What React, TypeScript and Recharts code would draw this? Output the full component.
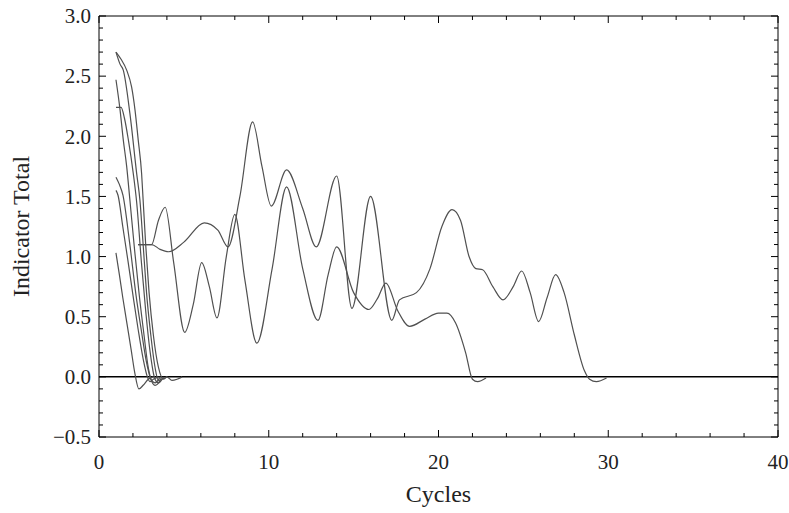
import React from "react";
import { LineChart, Line, XAxis, YAxis, ReferenceLine, Label } from "recharts";

// long curve that runs out to ~30 cycles
const cyclesA = [2.3, 3.1, 3.6, 4.1, 5.0, 6.2, 7.0, 7.6, 8.3, 9.05, 9.6, 10.15, 11.05, 12.0, 12.8, 14.0, 14.9, 16.0, 17.25, 17.7, 18.7, 19.5, 20.2, 20.8, 21.3, 21.8, 22.2, 22.6, 23.2, 23.8, 24.4, 24.9, 25.4, 25.9, 26.4, 26.9, 27.4, 28.0, 28.6, 28.9, 29.3, 29.9];
const totalA = [1.1, 1.1, 1.06, 1.04, 1.12, 1.28, 1.22, 1.08, 1.5, 2.12, 1.75, 1.42, 1.72, 1.4, 1.08, 1.67, 0.57, 1.5, 0.47, 0.64, 0.7, 0.9, 1.25, 1.39, 1.3, 1.0, 0.9, 0.89, 0.75, 0.64, 0.75, 0.88, 0.7, 0.46, 0.66, 0.85, 0.7, 0.35, 0.05, -0.02, -0.04, -0.01];

// curve ending around 22 cycles
const cyclesB = [2.3, 3.1, 3.5, 3.9, 4.4, 5.05, 5.55, 6.05, 6.5, 6.95, 7.5, 8.0, 8.6, 9.3, 10.2, 11.05, 12.0, 12.9, 13.5, 14.0, 15.0, 15.9, 16.4, 16.9, 17.6, 18.3, 19.2, 20.0, 20.5, 21.0, 21.6, 22.0, 22.3, 22.8];
const totalB = [1.1, 1.1, 1.3, 1.41, 0.95, 0.37, 0.6, 0.95, 0.75, 0.49, 1.0, 1.35, 0.8, 0.28, 0.9, 1.58, 0.9, 0.47, 0.85, 1.08, 0.7, 0.56, 0.65, 0.78, 0.55, 0.42, 0.48, 0.53, 0.53, 0.45, 0.2, -0.02, -0.04, -0.01];

// short runs that drop to zero within a few cycles
const cycles1 = [1, 1.2, 1.4, 1.65, 1.9, 2.1, 2.35, 2.6, 2.9, 3.2];
const total1 = [1.03, 0.85, 0.66, 0.44, 0.22, 0.04, -0.1, -0.07, -0.02, 0];
const cycles2 = [1, 1.12, 1.4, 1.7, 2.0, 2.3, 2.6, 2.85, 3.0, 3.2, 3.5];
const total2 = [1.55, 1.51, 1.25, 0.97, 0.68, 0.4, 0.15, 0.0, -0.04, -0.02, 0];
const cycles3 = [1, 1.2, 1.41, 1.8, 2.18, 2.5, 2.8, 3.05, 3.3, 3.45, 3.7];
const total3 = [1.66, 1.6, 1.51, 1.12, 0.68, 0.38, 0.12, -0.02, -0.07, -0.06, 0];
const cycles4 = [1, 1.24, 1.43, 1.63, 1.82, 2.1, 2.37, 2.65, 2.9, 3.1, 3.3, 3.6];
const total4 = [2.47, 2.22, 1.97, 1.75, 1.47, 1.05, 0.68, 0.35, 0.08, -0.03, -0.05, 0];
const cycles5 = [1, 1.3, 1.5, 1.73, 2.02, 2.22, 2.5, 2.75, 3.0, 3.3, 3.5, 3.8];
const total5 = [2.24, 2.24, 2.15, 1.97, 1.69, 1.45, 0.95, 0.55, 0.22, -0.02, -0.05, 0];
const cycles6 = [1, 1.24, 1.43, 1.82, 2.22, 2.41, 2.6, 2.8, 3.05, 3.3, 3.5, 3.7, 4.0];
const total6 = [2.7, 2.6, 2.55, 2.19, 1.69, 1.47, 1.1, 0.7, 0.35, 0.08, -0.03, -0.02, 0];
const cycles7 = [1, 1.3, 1.63, 1.92, 2.12, 2.31, 2.51, 2.6, 2.75, 2.95, 3.2, 3.5, 3.8, 4.0, 4.3, 4.6, 4.9];
const total7 = [2.7, 2.64, 2.55, 2.41, 2.22, 1.97, 1.69, 1.47, 1.1, 0.7, 0.35, 0.08, -0.02, 0, -0.03, -0.02, 0];

const xTicks = [0, 2, 4, 6, 8, 10, 12, 14, 16, 18, 20, 22, 24, 26, 28, 30, 32, 34, 36, 38, 40];
const yTicks = Array.from({ length: 36 }, (_, i) => (i - 5) / 10);

const FONT = "'Liberation Serif', 'Times New Roman', serif";
const INK = "#000";
const LINE = "#505050";

const runs = [
  [cyclesA, totalA],
  [cyclesB, totalB],
  [cycles1, total1],
  [cycles2, total2],
  [cycles3, total3],
  [cycles4, total4],
  [cycles5, total5],
  [cycles6, total6],
  [cycles7, total7],
].map(([xs, ys]) => xs.map((c, i) => ({ cycles: c, total: ys[i] })));

const isMajorX = (v: number) => v % 10 === 0;
const isMajorY = (v: number) => Math.round(v * 10) % 5 === 0;
const fmtY = (v: number) => (v < 0 ? "\u2212" : "") + Math.abs(v).toFixed(1);

// ticks point inward like a Mathematica frame
const BottomTick = ({ x, y, payload }: any) => {
  const major = isMajorX(payload.value);
  return (
    <g>
      <line x1={x} x2={x} y1={y} y2={y - (major ? 7 : 4)} stroke={INK} />
      {major && (
        <text x={x} y={y + 32} textAnchor="middle" fontSize={21} fontFamily={FONT} fill="#222">
          {payload.value}
        </text>
      )}
    </g>
  );
};

const TopTick = ({ x, y, payload }: any) => (
  <line x1={x} x2={x} y1={y} y2={y + (isMajorX(payload.value) ? 7 : 4)} stroke={INK} />
);

const LeftTick = ({ x, y, payload }: any) => {
  const major = isMajorY(payload.value);
  return (
    <g>
      <line x1={x} x2={x + (major ? 7 : 4)} y1={y} y2={y} stroke={INK} />
      {major && (
        <text x={x - 8} y={y} dy="0.35em" textAnchor="end" fontSize={21} fontFamily={FONT} fill="#222">
          {fmtY(payload.value)}
        </text>
      )}
    </g>
  );
};

const RightTick = ({ x, y, payload }: any) => (
  <line x1={x} x2={x - (isMajorY(payload.value) ? 7 : 4)} y1={y} y2={y} stroke={INK} />
);

export default function App() {
  return (
    <div style={{ position: "absolute", left: 0, top: 0, width: 789, height: 513, background: "#fff" }}>
      <LineChart width={789} height={513} margin={{ top: 15, right: 10, bottom: 0, left: 0 }}>
        <XAxis
          xAxisId="b"
          type="number"
          dataKey="cycles"
          domain={[0, 40]}
          allowDataOverflow
          ticks={xTicks}
          interval={0}
          height={76}
          tickSize={0}
          tickMargin={0}
          tickLine={false}
          tick={BottomTick}
          axisLine={{ stroke: INK }}
        >
          <Label value="Cycles" position="insideBottom" offset={11} fontSize={24} fontFamily={FONT} fill="#222" />
        </XAxis>
        <XAxis
          xAxisId="t"
          orientation="top"
          type="number"
          dataKey="cycles"
          domain={[0, 40]}
          allowDataOverflow
          ticks={xTicks}
          interval={0}
          height={1}
          tickSize={0}
          tickMargin={0}
          tickLine={false}
          tick={TopTick}
          axisLine={{ stroke: INK }}
        />
        <YAxis
          yAxisId="l"
          type="number"
          domain={[-0.5, 3]}
          allowDataOverflow
          ticks={yTicks}
          interval={0}
          width={99}
          tickSize={0}
          tickMargin={0}
          tickLine={false}
          tick={LeftTick}
          axisLine={{ stroke: INK }}
        >
          <Label
            value="Indicator Total"
            angle={-90}
            position="insideLeft"
            offset={20}
            fontSize={24}
            fontFamily={FONT}
            fill="#222"
            style={{ textAnchor: "middle" }}
          />
        </YAxis>
        <YAxis
          yAxisId="r"
          orientation="right"
          type="number"
          domain={[-0.5, 3]}
          allowDataOverflow
          ticks={yTicks}
          interval={0}
          width={1}
          tickSize={0}
          tickMargin={0}
          tickLine={false}
          tick={RightTick}
          axisLine={{ stroke: INK }}
        />
        <ReferenceLine xAxisId="b" yAxisId="l" y={0} stroke={INK} strokeWidth={1.5} />
        {runs.map((d, i) => (
          <Line
            key={i}
            xAxisId="b"
            yAxisId="l"
            data={d}
            dataKey="total"
            type="monotone"
            stroke={LINE}
            strokeWidth={1.2}
            dot={false}
            activeDot={false}
            isAnimationActive={false}
          />
        ))}
      </LineChart>
    </div>
  );
}
